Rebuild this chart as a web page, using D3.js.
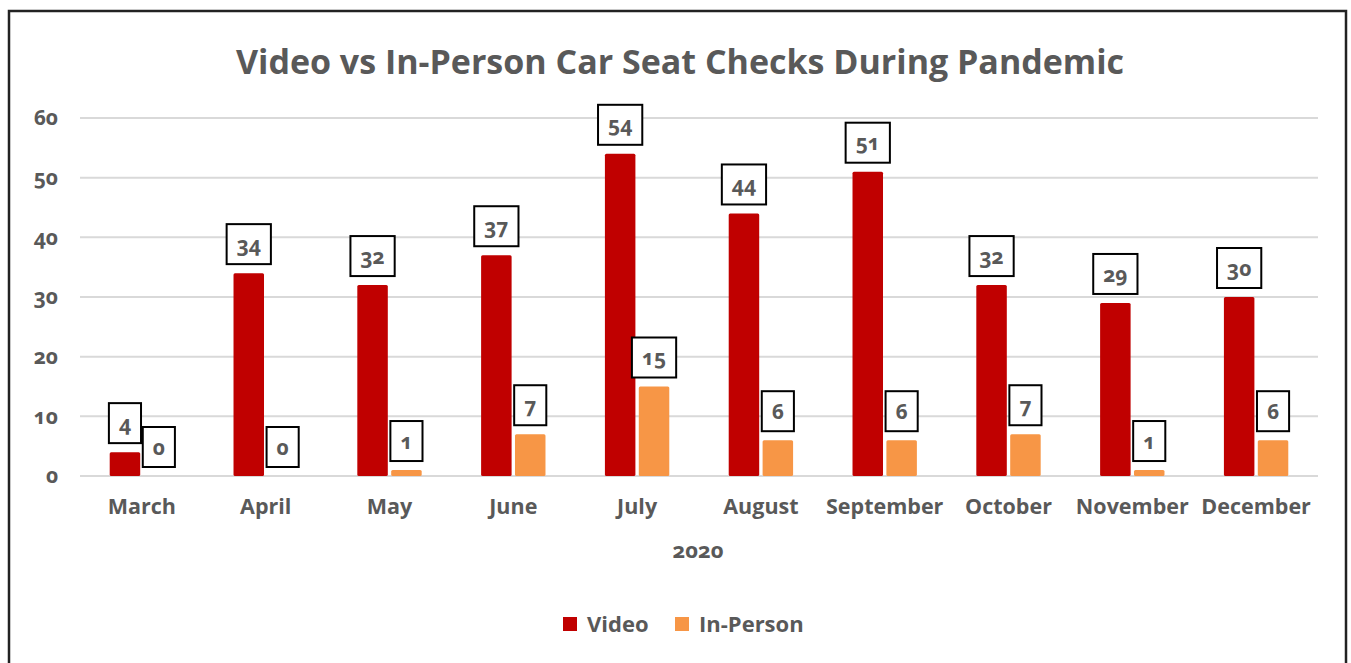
<!DOCTYPE html>
<html>
<head>
<meta charset="utf-8">
<script src="https://cdn.jsdelivr.net/npm/d3@7"></script>
<style>
  body { margin: 0; background: #fff; }
  text { font-family: "Open Sans", "Lato", sans-serif; font-weight: bold; fill: #595959; font-variant-numeric: oldstyle-nums; }
</style>
</head>
<body>
<div id="chartContainer"></div>
<script>
// Chart data
const months = ["March", "April", "May", "June", "July", "August", "September", "October", "November", "December"];
const video = [4, 34, 32, 37, 54, 44, 51, 32, 29, 30];
const inPerson = [0, 0, 1, 7, 15, 6, 6, 7, 1, 6];
const seriesNames = ["Video", "In-Person"];
const colors = ["#C00000", "#F79646"];
const yTicks = [0, 10, 20, 30, 40, 50, 60];

const W = 1351, H = 663;
const margin = {top: 118, right: 33, bottom: 187, left: 80};
const width = W - margin.left - margin.right;
const height = H - margin.top - margin.bottom;

const svg = d3.select("#chartContainer")
    .append("svg")
    .attr("width", W)
    .attr("height", H);

// outer border
svg.append("rect")
    .attr("x", 9).attr("y", 11)
    .attr("width", 1337).attr("height", 720)
    .attr("fill", "none")
    .attr("stroke", "#222")
    .attr("stroke-width", 2.5);

// Title
svg.append("text")
    .attr("x", 680)
    .attr("y", 74)
    .attr("text-anchor", "middle")
    .style("font-size", "34px")
    .text("Video vs In-Person Car Seat Checks During Pandemic");

const g = svg.append("g")
    .attr("transform", `translate(${margin.left},${margin.top})`);

const x0 = d3.scaleBand()
    .domain(months)
    .range([0, width])
    .paddingInner(0.48)
    .paddingOuter(0.24);

const x1 = d3.scaleBand()
    .domain(seriesNames)
    .range([0, x0.bandwidth()])
    .paddingInner(0.1);

const y = d3.scaleLinear()
    .domain([0, 60])
    .range([height, 0]);

// gridlines
g.selectAll(".grid")
    .data(yTicks)
    .join("line")
    .attr("class", "grid")
    .attr("x1", 0).attr("x2", width)
    .attr("y1", d => y(d)).attr("y2", d => y(d))
    .attr("stroke", "#d9d9d9")
    .attr("stroke-width", 2);

// y axis labels
const yAxis = d3.axisLeft(y).tickValues(yTicks).tickSize(0).tickPadding(22);
g.append("g")
    .call(yAxis)
    .call(s => s.select(".domain").remove())
    .selectAll("text")
    .style("font-size", "21px")
    .attr("fill", "#595959");

// x axis labels
const xAxis = d3.axisBottom(x0).tickSize(0).tickPadding(23);
const xg = g.append("g")
    .attr("transform", `translate(0,${height})`)
    .call(xAxis);
xg.select(".domain").remove();
xg.selectAll(".tick").attr("transform", d => `translate(${x0(d) + x0.bandwidth() / 2},0)`);
xg.selectAll("text").style("font-size", "21.5px").attr("fill", "#595959");

// x axis title
svg.append("text")
    .attr("x", 698)
    .attr("y", 558)
    .attr("text-anchor", "middle")
    .style("font-size", "22px")
    .text("2020");

const rows = months.map((m, i) => ({month: m, values: [
    {key: "Video", value: video[i]},
    {key: "In-Person", value: inPerson[i]}
]}));

const groups = g.selectAll(".group")
    .data(rows)
    .join("g")
    .attr("transform", d => `translate(${x0(d.month)},0)`);

groups.selectAll("rect")
    .data(d => d.values)
    .join("rect")
    .attr("x", d => x1(d.key))
    .attr("y", d => y(d.value))
    .attr("width", x1.bandwidth())
    .attr("height", d => height - y(d.value))
    .attr("rx", 1.5)
    .attr("fill", (d, i) => colors[i]);

// data labels in boxes
const labels = groups.selectAll(".lbl")
    .data(d => d.values)
    .join("g")
    .attr("class", "lbl")
    .attr("transform", d => `translate(${x1(d.key) + x1.bandwidth() / 2},${y(d.value) - 29})`);

labels.append("text")
    .attr("text-anchor", "middle")
    .attr("dy", "0.36em")
    .style("font-size", "21px")
    .text(d => d.value);

labels.each(function() {
    const t = d3.select(this).select("text");
    const bb = t.node().getBBox();
    const bw = bb.width + 20;
    d3.select(this).insert("rect", "text")
        .attr("x", -bw / 2)
        .attr("y", -20)
        .attr("width", bw)
        .attr("height", 40)
        .attr("fill", "#fff")
        .attr("stroke", "#000")
        .attr("stroke-width", 2);
});

// legend
const legendX = [563, 675];
const legend = svg.selectAll(".legend")
    .data(seriesNames)
    .join("g")
    .attr("class", "legend")
    .attr("transform", (d, i) => `translate(${legendX[i]},617)`);

legend.append("rect")
    .attr("width", 14).attr("height", 14)
    .attr("fill", (d, i) => colors[i]);

legend.append("text")
    .attr("x", 24)
    .attr("y", 7)
    .attr("dy", "0.36em")
    .style("font-size", "22px")
    .text(d => d);
</script>
</body>
</html>
